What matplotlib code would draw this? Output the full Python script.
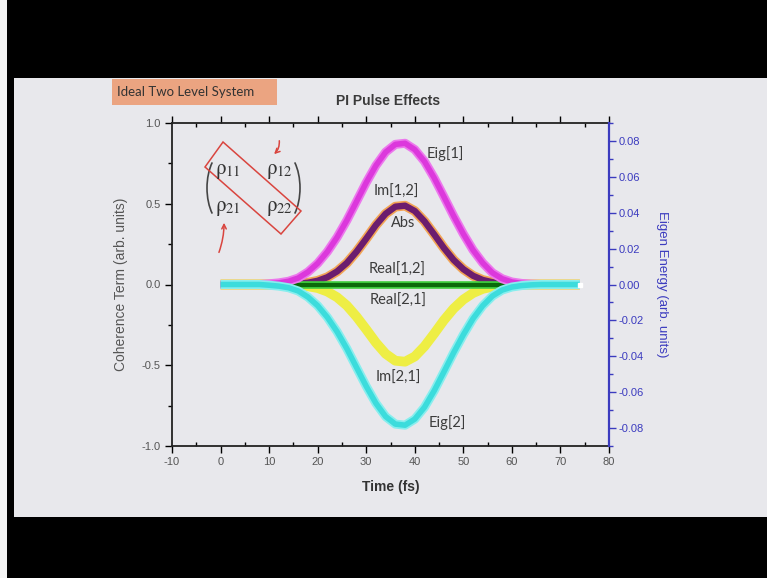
import matplotlib
matplotlib.use("Agg")
import matplotlib.pyplot as plt
from matplotlib.patches import Rectangle, Polygon, Arc, FancyArrowPatch
from matplotlib.ticker import MultipleLocator

plt.rcParams["axes.unicode_minus"] = False
plt.rcParams["mathtext.fontset"] = "stix"

# ==============================
# DATA
# ==============================

time_fs = [0, 2, 4, 6, 8, 10, 12, 14, 16, 18, 20, 22, 24, 26, 28, 30, 32, 34, 36,
           38, 40, 42, 44, 46, 48, 50, 52, 54, 56, 58, 60, 62, 64, 66, 68, 70, 72, 74]

im_12 = [0, 0, 0, 0, 0, 0, 0, 0.002, 0.005, 0.011, 0.023, 0.045, 0.081, 0.133,
         0.203, 0.284, 0.368, 0.438, 0.482, 0.488, 0.455, 0.391, 0.310, 0.226,
         0.152, 0.095, 0.054, 0.028, 0.014, 0.006, 0.003, 0.001, 0, 0, 0, 0, 0, 0]

abs_12 = [0, 0, 0, 0, 0, 0, 0, 0.002, 0.005, 0.011, 0.023, 0.045, 0.081, 0.133,
          0.203, 0.284, 0.368, 0.438, 0.482, 0.488, 0.455, 0.391, 0.310, 0.226,
          0.152, 0.095, 0.054, 0.028, 0.014, 0.006, 0.003, 0.001, 0, 0, 0, 0, 0, 0]

im_21 = [0, 0, 0, 0, 0, 0, 0, -0.002, -0.005, -0.011, -0.022, -0.044, -0.079,
         -0.130, -0.199, -0.278, -0.360, -0.429, -0.472, -0.478, -0.446, -0.383,
         -0.304, -0.221, -0.149, -0.093, -0.053, -0.027, -0.014, -0.006, -0.003,
         -0.001, 0, 0, 0, 0, 0, 0]

real_12 = [0] * 38
real_21 = [0] * 38

eig_1 = [0, 0, 0, 0, 0, 0.0004, 0.0009, 0.0018, 0.0036, 0.0070, 0.0118, 0.0183,
         0.0263, 0.0357, 0.0462, 0.0568, 0.0663, 0.0738, 0.0781, 0.0787, 0.0752,
         0.0686, 0.0594, 0.0489, 0.0382, 0.0282, 0.0192, 0.0120, 0.0065, 0.0032,
         0.0014, 0.0006, 0.0002, 0, 0, 0, 0, 0]

eig_2 = [0, 0, 0, 0, 0, -0.0004, -0.0009, -0.0018, -0.0036, -0.0070, -0.0118,
         -0.0183, -0.0263, -0.0357, -0.0462, -0.0567, -0.0662, -0.0736, -0.0778,
         -0.0784, -0.0750, -0.0684, -0.0592, -0.0487, -0.0380, -0.0280, -0.0190,
         -0.0118, -0.0064, -0.0031, -0.0014, -0.0006, -0.0002, 0, 0, 0, 0, 0]

x_ticks = [-10, 0, 10, 20, 30, 40, 50, 60, 70, 80]
y_ticks = [-1.0, -0.5, 0.0, 0.5, 1.0]
e_ticks = [-0.08, -0.06, -0.04, -0.02, 0.00, 0.02, 0.04, 0.06, 0.08]

# ==============================
# FIGURE / SLIDE BACKGROUND
# ==============================

W, H = 767, 578
SLIDE = "#e8e8ec"
BLUE = "#3b3bbf"
GRAY = "#555555"


def fx(x):
    return x / W


def fy(y):
    return 1 - y / H


def pt(x, y):
    return (fx(x), fy(y))


fig = plt.figure(figsize=(W / 100, H / 100), dpi=100, facecolor="black")

fig.add_artist(Rectangle((0, 0), fx(7), 1, transform=fig.transFigure,
                         facecolor="#f4f4f4", edgecolor="none", zorder=0))
fig.add_artist(Rectangle(pt(14, 517), 1 - fx(14), fy(78) - fy(517),
                         transform=fig.transFigure, facecolor=SLIDE,
                         edgecolor="none", zorder=0))

# header box + title
fig.add_artist(Rectangle(pt(112, 105), fx(277) - fx(112), fy(79) - fy(105),
                         transform=fig.transFigure, facecolor="#eba481",
                         edgecolor="none", zorder=1))
fig.text(fx(117), fy(92), "Ideal Two Level System", family="Lato", fontsize=9.5,
         color="#333333", va="center", ha="left")
fig.text(fx(388), fy(101), "PI Pulse Effects", family="Liberation Sans",
         fontsize=10, fontweight="bold", color="#3a3a3a", va="center", ha="center")

# ==============================
# MAIN AXES
# ==============================

ax = fig.add_axes([fx(172), fy(446), (609 - 172) / W, (446 - 123) / H])
ax.set_facecolor(SLIDE)

ax.plot(time_fs, im_12, color="#f2a455", lw=7.0, solid_capstyle="butt", zorder=2)
ax.plot(time_fs, abs_12, color="#6b1d6e", lw=4.6, solid_capstyle="butt", zorder=3)
ax.plot(time_fs, im_21, color="#eeee44", lw=7.0, solid_capstyle="butt", zorder=2)
ax.plot(time_fs, real_12, color="#3fcf3f", lw=5.5, solid_capstyle="butt", zorder=4)
ax.plot(time_fs, real_21, color="#0a6a0a", lw=3.0, solid_capstyle="butt", zorder=5)

ax.set_xlim(-10, 80)
ax.set_ylim(-1, 1)
ax.set_xticks(x_ticks)
ax.set_yticks(y_ticks)
ax.set_yticklabels([f"{v:.1f}" for v in y_ticks])
ax.xaxis.set_minor_locator(MultipleLocator(5))
ax.yaxis.set_minor_locator(MultipleLocator(0.25))

ax.tick_params(axis="x", which="major", direction="out", length=5, width=1,
               labelsize=8, labelcolor=GRAY, pad=3, top=True)
ax.tick_params(axis="x", which="minor", direction="in", length=3, width=1, top=True)
ax.tick_params(axis="y", which="major", direction="out", length=5, width=1,
               labelsize=8, labelcolor=GRAY, pad=3, right=False)
ax.tick_params(axis="y", which="minor", direction="out", length=3, width=1, right=False)
for lab in ax.get_xticklabels() + ax.get_yticklabels():
    lab.set_family("Liberation Sans")

for side in ["left", "bottom", "top"]:
    ax.spines[side].set_linewidth(1.3)
    ax.spines[side].set_color("#222222")
ax.spines["right"].set_visible(False)

ax.set_xlabel("Time (fs)", family="Liberation Sans", fontsize=10,
              fontweight="bold", color="#333333", labelpad=9)
ax.set_ylabel("Coherence Term (arb. units)", family="Liberation Sans",
              fontsize=10, color=GRAY, labelpad=10)

# ==============================
# EIGEN ENERGY AXIS
# ==============================

ax2 = ax.twinx()
ax2.plot(time_fs, eig_1, color="#ec78ec", lw=6.5, solid_capstyle="butt")
ax2.plot(time_fs, eig_1, color="#dc38dc", lw=4.0, solid_capstyle="butt")
ax2.plot(time_fs, eig_2, color="#88eeee", lw=6.5, solid_capstyle="butt")
ax2.plot(time_fs, eig_2, color="#3cdcdc", lw=4.0, solid_capstyle="butt")
ax2.plot(time_fs[-1:], eig_2[-1:], marker="s", ms=2.5, color="white", lw=0)

ax2.set_ylim(-0.09, 0.09)
ax2.set_yticks(e_ticks)
ax2.set_yticklabels([f"{v:.2f}" for v in e_ticks])
ax2.yaxis.set_minor_locator(MultipleLocator(0.01))
ax2.tick_params(axis="y", which="major", direction="out", length=5, width=1,
                color=BLUE, labelcolor=BLUE, labelsize=8, pad=2)
ax2.tick_params(axis="y", which="minor", direction="out", length=3, width=1,
                color=BLUE)
for lab in ax2.get_yticklabels():
    lab.set_family("Liberation Sans")
ax2.spines["right"].set_color(BLUE)
ax2.spines["right"].set_linewidth(1.6)
for side in ["left", "bottom", "top"]:
    ax2.spines[side].set_visible(False)
ax2.set_ylabel("Eigen Energy (arb. units)", family="Liberation Sans",
               fontsize=9.5, color=BLUE, rotation=270, labelpad=17)

# ==============================
# CURVE LABELS
# ==============================

label_kw = dict(family="Lato", fontsize=10.5, color="#3c3c3c",
                ha="center", va="center", zorder=10)
ax.text(46.3, 0.81, "Eig[1]", **label_kw)
ax.text(36.3, 0.575, "Im[1,2]", **label_kw)
ax.text(37.6, 0.38, "Abs", **label_kw)
ax.text(36.3, 0.09, "Real[1,2]", **label_kw)
ax.text(36.6, -0.10, "Real[2,1]", **label_kw)
ax.text(36.6, -0.58, "Im[2,1]", **label_kw)
ax.text(46.8, -0.855, "Eig[2]", **label_kw)

# ==============================
# DENSITY MATRIX SKETCH
# ==============================

rho_kw = dict(fontsize=15, color="#333333", ha="center", va="center")
fig.text(fx(228), fy(171), r"$\mathrm{ρ}_{11}$", **rho_kw)
fig.text(fx(279), fy(171), r"$\mathrm{ρ}_{12}$", **rho_kw)
fig.text(fx(228), fy(208), r"$\mathrm{ρ}_{21}$", **rho_kw)
fig.text(fx(279), fy(208), r"$\mathrm{ρ}_{22}$", **rho_kw)

fig.add_artist(Arc(pt(226, 188), 38 / W, 74 / H, theta1=112, theta2=248,
                   transform=fig.transFigure, color="#444444", lw=1.2))
fig.add_artist(Arc(pt(281, 188), 38 / W, 74 / H, theta1=-68, theta2=68,
                   transform=fig.transFigure, color="#444444", lw=1.2))

RED = "#d9453f"
fig.add_artist(Polygon([pt(223, 142), pt(205, 167), pt(281, 234), pt(301, 211)],
                       closed=True, fill=False, edgecolor=RED, lw=1.1,
                       transform=fig.transFigure))
fig.add_artist(FancyArrowPatch(pt(279, 138), pt(272, 156), transform=fig.transFigure,
                               arrowstyle="->", mutation_scale=8, color=RED, lw=1.1,
                               connectionstyle="arc3,rad=-0.3"))
fig.add_artist(FancyArrowPatch(pt(218, 255), pt(224, 220), transform=fig.transFigure,
                               arrowstyle="->", mutation_scale=8, color=RED, lw=1.1,
                               connectionstyle="arc3,rad=0.1"))

fig.savefig("out.png", dpi=100, facecolor="black")
